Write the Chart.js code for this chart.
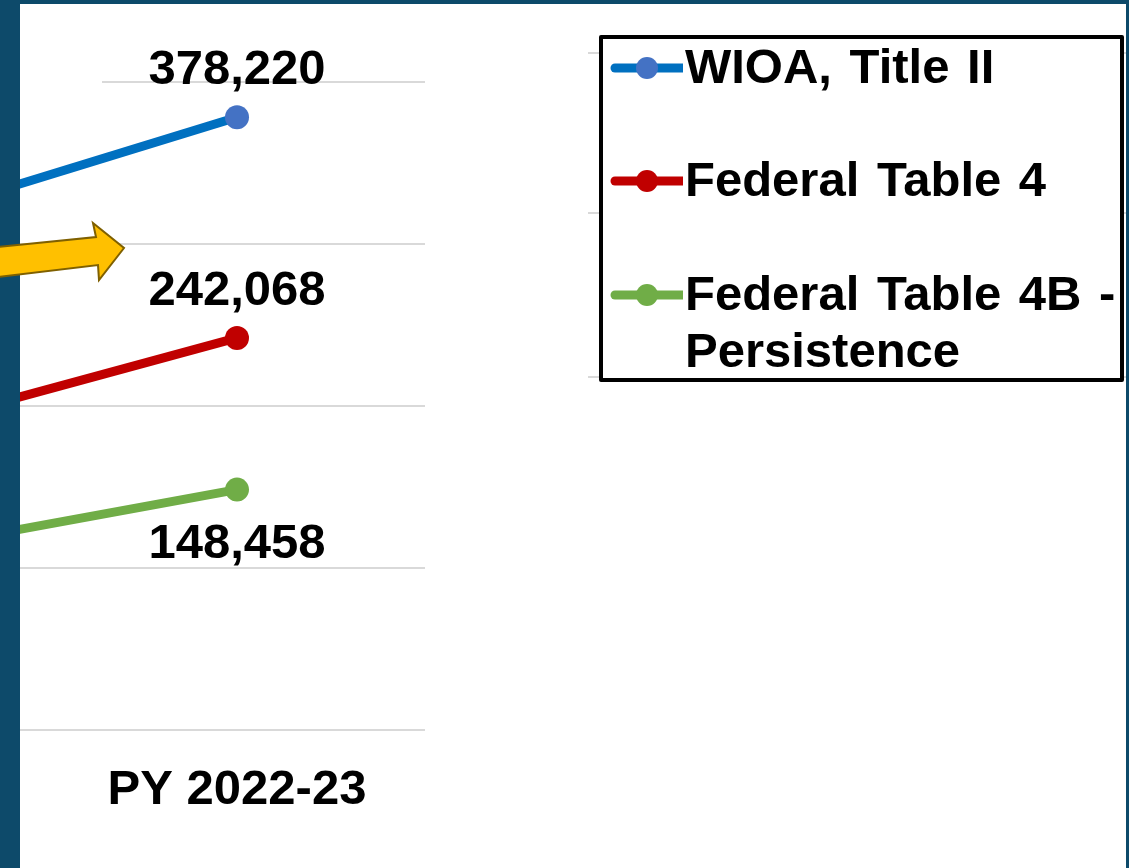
<!DOCTYPE html>
<html>
<head>
<meta charset="utf-8">
<script src="https://cdn.jsdelivr.net/npm/chart.js@4/dist/chart.umd.min.js"></script>
<style>
  html, body { margin: 0; padding: 0; }
  body { width: 1129px; height: 868px; background: #0D4A6A; position: relative; overflow: hidden;
         font-family: "Liberation Sans", Arial, sans-serif; }
  #panel { position: absolute; left: 20px; top: 4px; width: 1106px; height: 864px; background: #fff; overflow: hidden; }
  #chartWrap { position: absolute; left: -347px; top: 0; width: 752px; height: 839px; }
  #gridCover { position: absolute; left: 0; top: 74px; width: 82px; height: 14px; background: #fff; }
  .bgLine { position: absolute; left: 568px; width: 540px; height: 2px; background: #D9D9D9; }
  #legend { position: absolute; left: 579px; top: 31px; width: 517px; height: 339px;
            border: 4px solid #000; border-radius: 2px; background: #fff; overflow: hidden; }
  .entry { position: absolute; left: 0; white-space: nowrap; font-weight: bold; font-size: 49px;
           line-height: 57px; color: #000; word-spacing: 4px; }
  .entry svg { position: absolute; left: 4px; top: 17px; }
  .entry span { position: absolute; left: 82px; top: 0; }
  #arrow { position: absolute; left: 0; top: 0; }
</style>
</head>
<body>
<div id="panel">
  <div id="chartWrap"><canvas id="trendChart"></canvas></div>
  <div id="gridCover"></div>
  <div class="bgLine" style="top:48px"></div>
  <div class="bgLine" style="top:208px"></div>
  <div class="bgLine" style="top:372px"></div>
  <div id="legend"></div>
</div>
<svg id="arrow" width="140" height="300">
  <polygon points="-2,247 96,237 93,223 124,248 99,280 98,265 -2,277"
           fill="#FFC000" stroke="#7F6000" stroke-width="2" stroke-linejoin="miter"/>
</svg>
<script>
// 年度ラベル
const years = ['PY 2021-22', 'PY 2022-23'];

// 系列
const seriesNames = ['WIOA, Title II', 'Federal Table 4', 'Federal Table 4B - Persistence'];
const wioaTitle2 = [307000, 378220];
const fedTable4 = [179000, 242068];
const fedTable4B = [106000, 148458];

// y軸の目盛り
const yTicks = [0, 100000, 200000, 300000, 400000];

const lineColors = ['#0070C0', '#C00000', '#70AD47'];
const dotColors = ['#4472C4', '#C00000', '#70AD47'];
const labelPos = ['above', 'above', 'below'];

const FONT = '"Liberation Sans", Arial, sans-serif';

// データラベル
const valueLabels = {
  id: 'valueLabels',
  afterDatasetsDraw(chart) {
    const c = chart.ctx;
    c.save();
    c.font = 'bold 49px ' + FONT;
    c.fillStyle = '#000';
    c.textAlign = 'center';
    c.textBaseline = 'alphabetic';
    chart.data.datasets.forEach((ds, i) => {
      chart.getDatasetMeta(i).data.forEach((pt, j) => {
        const y = labelPos[i] === 'above' ? pt.y - 33 : pt.y + 68;
        c.fillText(ds.data[j].toLocaleString('en-US'), pt.x, y);
      });
    });
    c.restore();
  }
};

const datasets = [wioaTitle2, fedTable4, fedTable4B].map((d, i) => ({
  label: seriesNames[i],
  data: d,
  borderColor: lineColors[i],
  backgroundColor: dotColors[i],
  pointBackgroundColor: dotColors[i],
  pointBorderWidth: 0,
  pointRadius: 12,
  borderWidth: 9,
  tension: 0
}));

new Chart(document.getElementById('trendChart'), {
  type: 'line',
  data: { labels: years, datasets: datasets },
  options: {
    responsive: true,
    maintainAspectRatio: false,
    animation: false,
    layout: { autoPadding: false, padding: { top: 78, right: 0, left: 0, bottom: 0 } },
    plugins: { legend: { display: false }, tooltip: { enabled: false } },
    scales: {
      x: {
        offset: true,
        grid: { display: false },
        border: { display: false },
        ticks: { color: '#000', padding: 23, font: { family: FONT, size: 49, weight: 'bold' } }
      },
      y: {
        min: yTicks[0],
        max: yTicks[yTicks.length - 1],
        afterBuildTicks: s => { s.ticks = yTicks.map(v => ({ value: v })); },
        afterFit: s => { s.width = 0; },
        grid: { color: '#D9D9D9', lineWidth: 2, drawTicks: false },
        border: { display: false },
        ticks: { display: false }
      }
    }
  },
  plugins: [valueLabels]
});

// 凡例（HTML）
const legendEl = document.getElementById('legend');
seriesNames.forEach((name, i) => {
  const row = document.createElement('div');
  row.className = 'entry';
  row.style.top = (-1.5 + i * 113.5) + 'px';
  row.innerHTML =
    '<svg width="76" height="26"><line x1="8" y1="13" x2="76" y2="13" stroke="' + lineColors[i] +
    '" stroke-width="9" stroke-linecap="round"/><circle cx="40" cy="13" r="11" fill="' + dotColors[i] + '"/></svg>' +
    '<span>' + name.replace(' - ', ' -<br>') + '</span>';
  legendEl.appendChild(row);
});
</script>
</body>
</html>
